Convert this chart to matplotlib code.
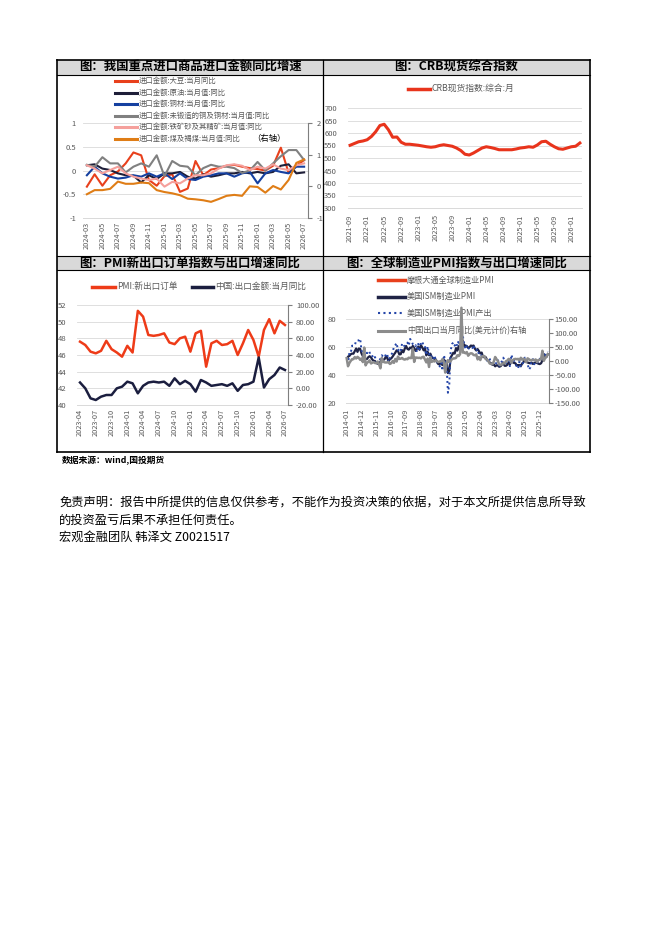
import matplotlib
matplotlib.use('Agg')
import matplotlib.pyplot as plt
from matplotlib.lines import Line2D
from matplotlib.patches import Rectangle
import matplotlib.transforms as mtransforms
from matplotlib.ticker import FuncFormatter
import numpy as np
import pandas as pd

plt.rcParams['font.family'] = ['Noto Sans CJK SC', 'DejaVu Sans']
plt.rcParams['axes.unicode_minus'] = False

# ---------------- data ----------------
# Panel 1: import value yoy (2024-03 .. 2026-07)
months1 = [p.strftime('%Y-%m') for p in pd.period_range('2024-03', '2026-07', freq='M')]
soy = [-0.34, -0.08, -0.32, -0.10, -0.02, 0.15, 0.38, 0.32, -0.20, -0.32, -0.12, -0.08, -0.45, -0.38,
       0.20, -0.10, 0.02, 0.05, 0.10, 0.12, 0.08, 0.05, 0.03, 0.00, 0.10, 0.48, -0.05, 0.10, 0.22]
crude = [0.11, 0.13, 0.04, 0.01, -0.06, -0.10, -0.11, -0.25, -0.10, -0.18, -0.06, -0.06, -0.03, -0.13,
         -0.17, -0.08, -0.13, -0.10, -0.06, -0.06, -0.03, -0.06, -0.03, -0.06, -0.03, 0.10, 0.13, -0.06, -0.04]
copper = [-0.10, 0.08, -0.06, -0.13, -0.17, -0.15, -0.10, -0.13, -0.06, -0.13, -0.06, -0.18, -0.06, -0.18,
          -0.20, -0.13, -0.10, -0.06, -0.06, -0.13, -0.06, -0.03, -0.27, -0.06, 0.01, -0.03, -0.06, 0.08, 0.08]
unwrought_cu = [0.12, 0.08, 0.28, 0.15, 0.15, -0.04, 0.08, 0.15, 0.08, 0.32, -0.12, 0.20, 0.10, 0.08, -0.10,
                0.05, 0.12, 0.08, 0.08, 0.05, -0.05, 0.00, 0.18, 0.00, 0.15, 0.30, 0.43, 0.43, 0.22]
iron_ore = [0.11, 0.04, -0.06, 0.01, 0.08, -0.06, -0.13, -0.17, -0.20, -0.17, -0.34, -0.24, -0.27, -0.17,
            -0.10, -0.10, -0.06, 0.04, 0.11, 0.13, 0.10, 0.01, 0.08, 0.04, 0.13, 0.04, 0.01, 0.11, 0.15]
coal = [-0.25, -0.12, -0.12, -0.08, 0.15, 0.08, 0.08, 0.12, 0.10, -0.12, -0.18, -0.22, -0.28, -0.39, -0.41,
        -0.44, -0.49, -0.40, -0.30, -0.27, -0.30, 0.00, -0.02, -0.20, 0.01, -0.10, 0.20, 0.74, 0.85]

# Panel 2: CRB spot index (2021-09 .. 2026-03)
months2 = [p.strftime('%Y-%m') for p in pd.period_range('2021-09', '2026-03', freq='M')]
crb = [551, 558, 565, 568, 573, 586, 605, 630, 635, 613, 583, 584, 563, 555, 555, 553, 551, 548, 545,
       543, 545, 550, 553, 550, 547, 540, 530, 515, 512, 520, 530, 540, 545, 542, 538, 533, 533, 533,
       533, 536, 540, 542, 545, 543, 552, 565, 567, 555, 545, 537, 535, 540, 545, 547, 560]

# Panel 3: PMI new export orders & China export yoy (2023-04 .. 2026-07)
months3 = [p.strftime('%Y-%m') for p in pd.period_range('2023-04', '2026-07', freq='M')]
pmi_export_orders = [47.6, 47.2, 46.4, 46.2, 46.5, 47.7, 46.7, 46.3, 45.8, 47.1, 46.3, 51.3, 50.6, 48.4,
                     48.3, 48.4, 48.6, 47.5, 47.3, 48.0, 48.2, 46.4, 48.6, 48.9, 44.6, 47.4, 47.7, 47.2,
                     47.3, 47.7, 46.0, 47.4, 49.0, 47.8, 45.8, 49.0, 50.3, 48.6, 50.1, 49.6]
cn_export_recent = [7, 0, -12, -14, -10, -8, -8, 0, 2, 8, 6, -6, 3, 7, 8, 7, 8, 3, 12, 5, 9, 5, -4, 10,
                    7, 3, 4, 5, 3, 6, -3, 4, 5, 8, 37, 1, 11, 16, 25, 22]

# Panel 4: global manufacturing PMI (2014-01 .. 2026-06)
months4 = [p.strftime('%Y-%m') for p in pd.period_range('2014-01', '2026-06', freq='M')]
jpm_global_pmi = []
ism_pmi = [51.3, 53.2, 53.7, 54.9, 55.4, 55.3, 57.1, 59.0, 56.6, 59.0, 58.7, 55.5,
           53.5, 52.9, 51.5, 51.5, 52.8, 53.5, 52.7, 51.1, 50.2, 50.1, 48.6, 48.2,
           48.2, 49.5, 51.8, 50.8, 51.3, 53.2, 52.6, 49.4, 51.5, 51.9, 53.2, 54.7,
           56.0, 57.7, 57.2, 54.8, 54.9, 57.8, 56.3, 58.8, 60.8, 58.7, 58.2, 59.7,
           59.1, 60.8, 59.3, 57.3, 58.7, 60.2, 58.1, 61.3, 59.8, 57.7, 59.3, 54.1,
           56.6, 54.2, 55.3, 52.8, 52.1, 51.7, 51.2, 49.1, 47.8, 48.3, 48.1, 47.2,
           50.9, 50.1, 49.1, 41.5, 43.1, 52.6, 54.2, 56.0, 55.4, 59.3, 57.5, 60.7,
           58.7, 60.8, 64.7, 60.7, 61.2, 60.6, 59.5, 59.9, 61.1, 60.8, 61.1, 58.8,
           57.6, 58.6, 57.1, 55.4, 56.1, 53.0, 52.8, 52.8, 50.9, 50.2, 49.0, 48.4,
           47.4, 47.7, 46.3, 47.1, 46.9, 46.0, 46.4, 47.6, 49.0, 46.7, 46.7, 47.4,
           49.1, 47.8, 50.3, 49.2, 48.7, 48.5, 46.8, 47.2, 47.2, 46.5, 48.4, 49.3,
           50.9, 50.3, 49.0, 48.7, 48.5, 49.0, 48.0, 48.7, 49.1, 48.7, 48.2, 47.9,
           48.5, 50.5, 55.0, 52.5, 53.0, 55.0]
ism_output = [52.7, 48.2, 55.9, 55.7, 61.0, 61.0, 61.2, 64.5, 64.6, 64.8, 66.0, 57.5,
              56.5, 53.7, 53.8, 56.0, 54.5, 56.0, 56.0, 53.7, 51.8, 52.9, 49.2, 49.9,
              50.2, 51.8, 54.2, 53.2, 52.6, 54.7, 55.4, 49.4, 52.8, 54.6, 56.0, 60.3,
              61.4, 62.9, 57.6, 58.6, 57.1, 62.4, 60.6, 61.0, 62.2, 63.2, 61.0, 65.8,
              64.5, 62.0, 61.0, 61.5, 56.5, 62.3, 58.5, 63.3, 63.9, 60.8, 60.6, 54.3,
              60.5, 54.8, 55.8, 52.3, 51.3, 54.1, 50.8, 49.5, 47.3, 46.2, 49.1, 43.2,
              54.3, 50.3, 47.7, 27.5, 33.2, 57.3, 62.1, 63.3, 61.0, 63.0, 60.8, 64.8,
              60.7, 63.2, 68.1, 62.5, 58.5, 60.8, 58.4, 60.0, 59.4, 59.3, 61.5, 57.8,
              57.8, 58.5, 54.5, 53.6, 54.2, 54.9, 53.5, 50.4, 50.6, 52.3, 51.5, 48.5,
              48.0, 47.3, 47.8, 48.9, 51.1, 46.7, 48.3, 50.0, 52.5, 50.4, 48.5, 50.3,
              50.4, 45.9, 54.6, 51.3, 50.2, 48.5, 45.9, 44.8, 49.8, 46.2, 46.8, 50.3,
              52.5, 50.7, 48.3, 44.0, 45.4, 50.3, 51.4, 47.8, 51.0, 48.2, 51.4, 51.7,
              50.0, 52.0, 56.0, 54.0, 55.0, 57.0]
cn_export_hist = [10.6, -18.1, -6.6, 0.9, 7.0, 7.2, 14.5, 9.4, 15.3, 11.6, 4.7, 9.7,
                  -3.3, 48.3, -15.0, -6.4, -2.5, 2.8, -8.3, -5.5, -3.7, -6.9, -6.8, -1.4,
                  -11.2, -25.4, 11.5, -1.8, -4.1, -4.8, -4.4, -2.8, -10.0, -7.3, 0.1, -6.1,
                  7.9, -1.3, 16.4, 8.0, 8.7, 11.3, 7.2, 5.5, 8.1, 6.9, 12.3, 10.9,
                  11.1, 44.5, -2.7, 12.9, 12.6, 11.3, 12.2, 9.8, 14.5, 15.6, 5.4, -4.4,
                  9.1, -20.7, 14.0, -2.7, 1.1, -1.3, 3.3, -1.0, -3.2, -0.9, -1.1, 7.6,
                  -3.5, -40.6, -6.6, 3.5, -3.3, 0.5, 7.2, 9.5, 9.9, 11.4, 21.1, 18.1,
                  24.9, 190.0, 30.6, 32.3, 27.9, 32.2, 19.3, 25.6, 28.1, 27.1, 22.0, 20.9,
                  24.1, 6.2, 14.7, 3.9, 16.9, 17.9, 18.0, 7.1, 5.7, -0.3, -8.7, -9.9,
                  -10.5, -1.3, 14.8]
cn_export_full = cn_export_hist + cn_export_recent[:len(months4) - len(cn_export_hist)]

# ---------------- figure ----------------
W, H = 662, 936
fig = plt.figure(figsize=(W / 100, H / 100), dpi=100)
PX = mtransforms.Affine2D().scale(1 / W, -1 / H).translate(0, 1) + fig.transFigure


def rect(x0, y0, x1, y1):
    return [x0 / W, 1 - y1 / H, (x1 - x0) / W, (y1 - y0) / H]


TICK_C = '#595959'
GRID_C = '#d9d9d9'

# table
L, M, R = 57, 323, 590
T, D, B = 60, 256, 452
H1, H2 = 75, 270
for (y0, y1) in [(T, H1), (D, H2)]:
    fig.add_artist(Rectangle((L, y0), R - L, y1 - y0, transform=PX,
                             facecolor='#d9d9d9', edgecolor='none', zorder=-3))
for y in [T, B]:
    fig.add_artist(Line2D([L, R], [y, y], transform=PX, color='black', lw=1.2, zorder=-2))
for y in [H1, D, H2]:
    fig.add_artist(Line2D([L, R], [y, y], transform=PX, color='black', lw=0.8, zorder=-2))
for x in [L, R]:
    fig.add_artist(Line2D([x, x], [T, B], transform=PX, color='black', lw=1.2, zorder=-2))
fig.add_artist(Line2D([M, M], [T, B], transform=PX, color='black', lw=0.9, zorder=-2))

title_kw = dict(transform=PX, ha='center', va='center', fontsize=8.9, fontweight='bold', color='black')
fig.text((L + M) / 2, 67.5, '图：我国重点进口商品进口金额同比增速', **title_kw)
fig.text((M + R) / 2, 67.5, '图：CRB现货综合指数', **title_kw)
fig.text((L + M) / 2, 263, '图：PMI新出口订单指数与出口增速同比', **title_kw)
fig.text((M + R) / 2, 263, '图：全球制造业PMI指数与出口增速同比', **title_kw)


def legend_entry(x0, x1, y, label, fs, zorder=5, **line_kw):
    fig.add_artist(Line2D([x0, x1], [y, y], transform=PX, zorder=zorder, **line_kw))
    fig.text(x1 + 2, y, label, transform=PX, ha='left', va='center', fontsize=fs,
             color=TICK_C, zorder=zorder)


def base_style(ax, left_pad=5, bottom_pad=2.5):
    ax.patch.set_visible(False)
    for s in ['top', 'left', 'right']:
        ax.spines[s].set_visible(False)
    ax.spines['bottom'].set_color(GRID_C)
    ax.spines['bottom'].set_linewidth(0.7)
    ax.grid(axis='y', color=GRID_C, lw=0.6)
    ax.set_axisbelow(True)
    ax.tick_params(axis='y', length=0, labelsize=5.5, labelcolor=TICK_C, pad=left_pad)
    ax.tick_params(axis='x', length=0, labelsize=5.3, labelcolor=TICK_C, pad=bottom_pad)


def twin_style(axr, pad=3):
    axr.patch.set_visible(False)
    for s in ['top', 'left', 'bottom']:
        axr.spines[s].set_visible(False)
    axr.spines['right'].set_color('#7f7f7f')
    axr.spines['right'].set_linewidth(0.8)
    axr.tick_params(axis='y', length=3, direction='out', color='#7f7f7f',
                    labelsize=5.5, labelcolor=TICK_C, pad=pad)


fmt_g = FuncFormatter(lambda v, p: f'{v:g}')
fmt_2 = FuncFormatter(lambda v, p: f'{v:.2f}')

# ---------------- panel 1 ----------------
ax1 = fig.add_axes(rect(83, 123, 308, 218))
x1 = np.arange(len(months1))
c_soy, c_crude, c_cu, c_ucu, c_iron, c_coal = '#E8401C', '#1E1E38', '#1540A0', '#808080', '#F5A09C', '#DF7D16'
ax1.plot(x1, soy, color=c_soy, lw=1.5)
ax1.plot(x1, crude, color=c_crude, lw=1.5)
ax1.plot(x1, copper, color=c_cu, lw=1.5)
ax1.plot(x1, unwrought_cu, color=c_ucu, lw=1.5)
ax1.plot(x1, iron_ore, color=c_iron, lw=1.5)
ax1.set_xlim(-0.5, len(months1) - 0.5)
ax1.set_ylim(-1, 1)
ax1.set_yticks([-1, -0.5, 0, 0.5, 1])
ax1.yaxis.set_major_formatter(fmt_g)
ax1.set_xticks(x1[::2])
ax1.set_xticklabels(months1[::2], rotation=90)
base_style(ax1, left_pad=5, bottom_pad=2.5)
ax1r = ax1.twinx()
ax1r.plot(x1, coal, color=c_coal, lw=1.5)
ax1r.set_ylim(-1, 2)
ax1r.set_yticks([-1, 0, 1, 2])
ax1r.yaxis.set_major_formatter(fmt_g)
twin_style(ax1r, pad=3)

leg1 = [('进口金额:大豆:当月同比', c_soy), ('进口金额:原油:当月值:同比', c_crude),
        ('进口金额:铜材:当月值:同比', c_cu), ('进口金额:未锻造的铜及铜材:当月值:同比', c_ucu),
        ('进口金额:铁矿砂及其精矿:当月值:同比', c_iron), ('进口金额:煤及褐煤:当月值:同比', c_coal)]
for k, (lab, col) in enumerate(leg1):
    legend_entry(115, 137, 81 + 11.5 * k, lab, 5.3, color=col, lw=2.2)
fig.text(252, 138.5, '（右轴）', transform=PX, ha='left', va='center', fontsize=6,
         fontstyle='italic', color='black')

# ---------------- panel 2 ----------------
ax2 = fig.add_axes(rect(348, 108, 582, 208))
x2 = np.arange(len(months2))
ax2.plot(x2, crb, color='#E8341C', lw=2.2)
ax2.set_xlim(-0.5, len(months2) - 0.5)
ax2.set_ylim(300, 700)
ax2.set_yticks(np.arange(300, 701, 50))
ax2.set_xticks(x2[::4])
ax2.set_xticklabels(months2[::4], rotation=90)
base_style(ax2, left_pad=8, bottom_pad=4.5)
legend_entry(408, 430, 88.7, 'CRB现货指数:综合:月', 6.3, color='#E8341C', lw=2.5)

# ---------------- panel 3 ----------------
ax3 = fig.add_axes(rect(77.4, 305, 287.6, 405))
x3 = np.arange(len(months3))
c_pmi, c_exp = '#EE3B18', '#1B1E3F'
ax3.plot(x3, pmi_export_orders, color=c_pmi, lw=1.8)
ax3.set_xlim(-0.5, len(months3) - 0.5)
ax3.set_ylim(40, 52)
ax3.set_yticks(np.arange(40, 53, 2))
ax3.set_xticks(x3[::3])
ax3.set_xticklabels(months3[::3], rotation=90)
base_style(ax3, left_pad=8, bottom_pad=3)
ax3r = ax3.twinx()
ax3r.plot(x3, cn_export_recent, color=c_exp, lw=1.8)
ax3r.set_ylim(-20, 100)
ax3r.set_yticks(np.arange(-20, 101, 20))
ax3r.yaxis.set_major_formatter(fmt_2)
twin_style(ax3r, pad=3)
legend_entry(92, 115, 286.7, 'PMI:新出口订单', 6.2, color=c_pmi, lw=2.5)
legend_entry(192, 213, 286.7, '中国:出口金额:当月同比', 6.2, color=c_exp, lw=2.5)

# ---------------- panel 4 ----------------
ax4 = fig.add_axes(rect(346, 319, 548.5, 403.3))
x4 = np.arange(len(months4))
c_jpm, c_ism, c_out, c_cn = '#E8401C', '#1F2345', '#2445A8', '#8C8C8C'
ax4.plot(x4[:len(jpm_global_pmi)], jpm_global_pmi, color=c_jpm, lw=2)
ax4.plot(x4, ism_pmi, color=c_ism, lw=1.6)
ax4.plot(x4, ism_output, color=c_out, lw=1.4, ls=(0, (1, 1.6)))
ax4.set_xlim(-0.5, len(months4) - 0.5)
ax4.set_ylim(20, 80)
ax4.set_yticks([20, 40, 60, 80])
ax4.set_xticks(x4[::11])
ax4.set_xticklabels(months4[::11], rotation=90)
base_style(ax4, left_pad=7, bottom_pad=4)
ax4r = ax4.twinx()
ax4r.plot(x4, cn_export_full, color=c_cn, lw=1.8, clip_on=False)
ax4r.set_ylim(-150, 150)
ax4r.set_yticks(np.arange(-150, 151, 50))
ax4r.yaxis.set_major_formatter(fmt_2)
twin_style(ax4r, pad=1.5)
legend_entry(378, 405, 280, '摩根大通全球制造业PMI', 5.9, zorder=-1, color=c_jpm, lw=2.5)
legend_entry(378, 405, 296.7, '美国ISM制造业PMI', 5.9, zorder=-1, color=c_ism, lw=2.5)
legend_entry(378, 405, 313.3, '美国ISM制造业PMI产出', 5.9, zorder=-1, color=c_out, lw=1.5,
             ls=(0, (1, 1.6)))
legend_entry(378, 405, 331, '中国出口当月同比(美元计价)右轴', 5.9, zorder=-1, color=c_cn, lw=2.2)

# ---------------- footer texts ----------------
fig.text(62, 460.5, '数据来源：wind,国投期货', transform=PX, ha='left', va='center',
         fontsize=6.3, fontweight='bold', color='black')
foot_kw = dict(transform=PX, ha='left', va='center', fontsize=8.8, color='black')
fig.text(59, 503, '免责声明：报告中所提供的信息仅供参考，不能作为投资决策的依据，对于本文所提供信息所导致', **foot_kw)
fig.text(59, 520.5, '的投资盈亏后果不承担任何责任。', **foot_kw)
fig.text(59, 537, '宏观金融团队 韩泽文 Z0021517', **foot_kw)

fig.savefig('out.png', dpi=100)
